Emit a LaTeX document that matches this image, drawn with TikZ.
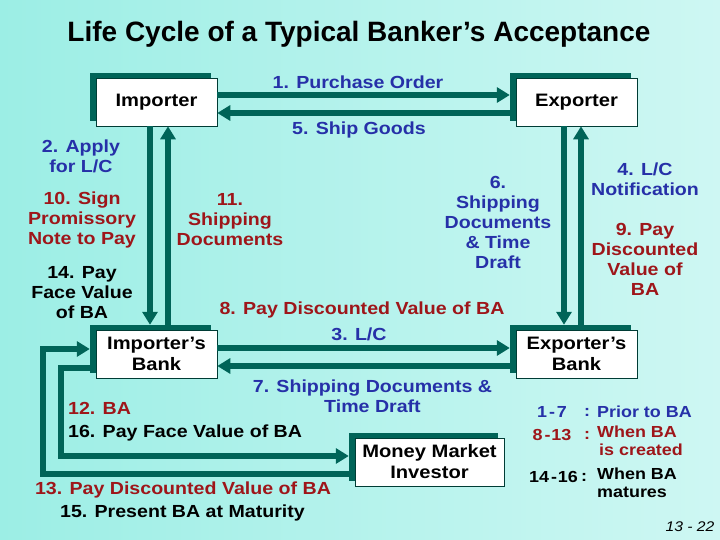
\documentclass[tikz,border=0pt]{standalone}
\usepackage{fontspec}
\setmainfont{Liberation Sans}[FakeStretch=1.12]
\newfontfamily\titlefont{Liberation Sans}
\usetikzlibrary{arrows.meta}
\definecolor{lineC}{RGB}{0,100,88}
\definecolor{bgA}{RGB}{156,238,229}
\definecolor{bgB}{RGB}{206,247,243}
\definecolor{blueT}{RGB}{38,48,168}
\definecolor{redT}{RGB}{158,22,26}
\newcommand\lblfont{\fontsize{17.5}{20}\selectfont\bfseries}
\newcommand\boxfont{\fontsize{18}{21}\selectfont\bfseries}
\newcommand\legfont{\fontsize{16}{18}\selectfont\bfseries}
\begin{document}
\begin{tikzpicture}[x=1pt,y=-1pt,
  shad/.style={fill=lineC, minimum width=121pt, minimum height=48pt, inner sep=0pt},
  wbox/.style={fill=white, draw=lineC!60!black, line width=0.6pt, minimum width=121pt, minimum height=48pt, inner sep=0pt, align=center, font=\boxfont},
  arr/.style={draw=lineC, line width=6pt, -{Triangle[length=13pt,width=15pt]}},
  lab/.style={font=\lblfont, align=center, inner sep=0pt},
  leg/.style={font=\legfont, align=left, inner sep=0pt}]
\shade[left color=bgA,right color=bgB] (0,0) rectangle (720,540);
\useasboundingbox (0,0) rectangle (720,540);

\node[font={\titlefont\bfseries\fontsize{28}{32}\selectfont}] (title) at (359,34) {Life Cycle of a Typical Banker’s Acceptance};

% boxes with shadows
\node[shad] (imps) at (150.5,97) {};
\node[wbox] (imp) at (156.5,102) {Importer};
\node[shad] (exps) at (570.5,97) {};
\node[wbox] (exp) at (576.5,102) {Exporter};
\node[shad] (ibanks) at (150.5,349) {};
\node[wbox] (ibank) at (156.5,354) {Importer’s\\Bank};
\node[shad] (ebanks) at (570.5,349) {};
\node[wbox] (ebank) at (576.5,354) {Exporter’s\\Bank};
\node[shad, minimum width=149pt] (mms) at (423.5,457) {};
\node[wbox, minimum width=149pt] (mm) at (429.5,462) {Money Market\\Investor};

% connectors
\draw[arr] ([yshift=7pt]imp.east) -- ([yshift=2pt]exps.west);
\draw[arr] ([yshift=-16pt]exps.west) -- ([yshift=-11pt]imp.east);
\draw[arr] ([xshift=-6.5pt]imp.south) -- ([xshift=-0.5pt]ibanks.north);
\draw[arr] ([xshift=17.5pt]ibanks.north) -- ([xshift=11.5pt]imp.south);
\draw[arr] ([xshift=-12.5pt]exp.south) -- ([xshift=-6.5pt]ebanks.north);
\draw[arr] ([xshift=10.5pt]ebanks.north) -- ([xshift=4.5pt]exp.south);
\draw[arr] ([yshift=6pt]ibank.east) -- ([yshift=1pt]ebanks.west);
\draw[arr] ([yshift=-17pt]ebanks.west) -- ([yshift=-12pt]ibank.east);
\draw[arr] ([yshift=-19pt]ibanks.west) -- ++(-29,0) |- ([yshift=1pt]mms.west);
\draw[arr] ([yshift=-17pt]mms.west) -- ++(-306,0) |- (ibanks.west);

% labels
\node[lab, text=blueT] (po) at (358,82) {1. Purchase Order};
\node[lab, text=blueT] (sg) at (359,130) {5. Ship Goods};
\node[lab, text=blueT] (apply) at (81,156) {2. Apply\\for L/C};
\node[lab, text=redT] (sign) at (82,220) {10. Sign\\Promissory\\Note to Pay};
\node[lab, text=redT] (ship11) at (230,220) {11.\\Shipping\\Documents};
\node[lab, text=black] (pay14) at (82,292.5) {14. Pay\\Face Value\\of BA};
\node[lab, text=redT] (pay8) at (362,310) {8. Pay Discounted Value of BA};
\node[lab, text=blueT] (lc3) at (359,334) {3. L/C};
\node[lab, text=blueT] (ship7) at (372.5,396.5) {7. Shipping Documents \&\\Time Draft};
\node[lab, text=blueT] (ship6) at (498,222) {6.\\Shipping\\Documents\\\& Time\\Draft};
\node[lab, text=blueT] (lc4) at (645,179.5) {4. L/C\\Notification};
\node[lab, text=redT] (pay9) at (645,259) {9. Pay\\Discounted\\Value of\\BA};
\node[lab, text=redT, anchor=west] (ba12) at (68,408) {12. BA};
\node[lab, text=black, anchor=west] (pay16) at (68,433) {16. Pay Face Value of BA};
\node[lab, text=redT] (pd13) at (183,490) {13. Pay Discounted Value of BA};
\node[lab, text=black] (pr15) at (182.5,513) {15. Present BA at Maturity};

% legend
\node[leg, text=blueT] (l1n) at (552,412) {1\kern2pt-\kern2pt7};
\node[leg, text=blueT] (l1c) at (587,412) {:};
\node[leg, text=blueT, anchor=west] (l1t) at (597,412) {Prior to BA};
\node[leg, text=redT] (l2n) at (552,435) {8\kern2pt-\kern1pt13};
\node[leg, text=redT] (l2c) at (587,435) {:};
\node[leg, text=redT, anchor=north west] (l2t) at (597,426) {When BA\\\hspace*{2pt}is created};
\node[leg, text=black] (l3n) at (553.5,477) {14\kern2pt-\kern1pt16};
\node[leg, text=black] (l3c) at (584,477) {:};
\node[leg, text=black, anchor=north west] (l3t) at (597,468) {When BA\\matures};

\node[font=\fontsize{14}{16}\selectfont\itshape, inner sep=0pt] (pg) at (690,527) {13 - 22};
\end{tikzpicture}
\end{document}
